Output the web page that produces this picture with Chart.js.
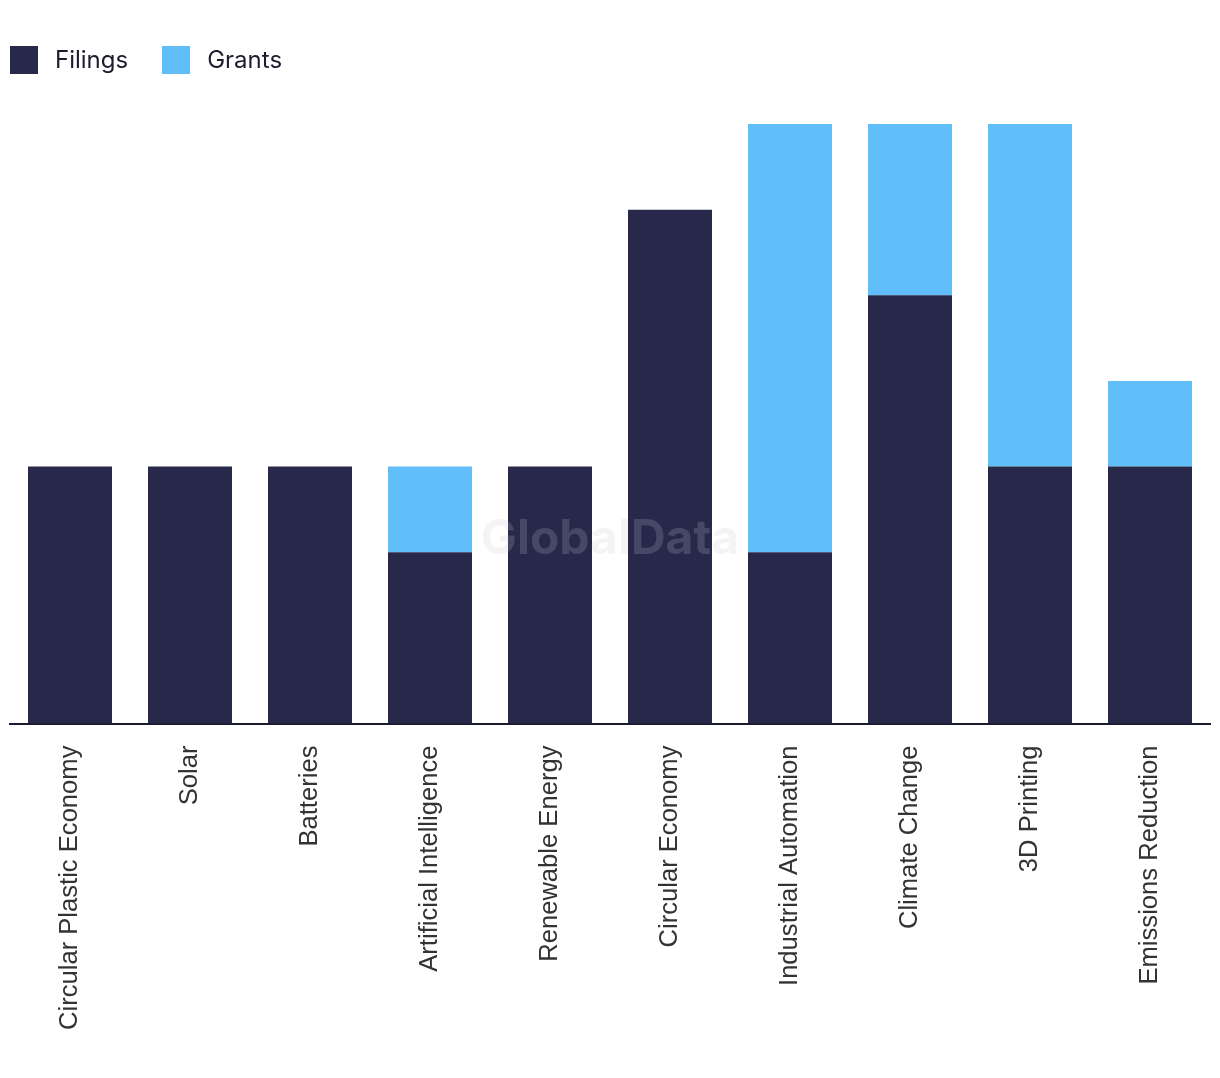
<!DOCTYPE html>
<html>
<head>
<meta charset="utf-8">
<script src="https://cdn.jsdelivr.net/npm/chart.js@4.4.1/dist/chart.umd.min.js"></script>
<style>
  body { margin: 0; background: #fff; }
  #wrap { position: relative; width: 1220px; height: 1078px; }
  #legend { position: absolute; left: 10px; top: 45px; display: flex; font-family: Inter, "Noto Sans", sans-serif; font-size: 24px; color: #1c1c2e; }
  .item { display: flex; align-items: center; margin-right: 34px; }
  .box { width: 28px; height: 28px; margin-right: 17px; }
</style>
</head>
<body>
<div id="wrap">
  <div id="legend"></div>
  <canvas id="chart" width="1220" height="1078"></canvas>
</div>
<script>
const categories = ['Circular Plastic Economy', 'Solar', 'Batteries', 'Artificial Intelligence', 'Renewable Energy',
    'Circular Economy', 'Industrial Automation', 'Climate Change', '3D Printing', 'Emissions Reduction'];
const filings = [3, 3, 3, 2, 3, 6, 2, 5, 3, 3];
const grants = [0, 0, 0, 1, 0, 0, 5, 2, 4, 1];
const seriesNames = ['Filings', 'Grants'];
const colors = ['#27284a', '#60bff8'];

// html legend
const legend = document.getElementById('legend');
seriesNames.forEach((name, i) => {
    const item = document.createElement('div');
    item.className = 'item';
    item.innerHTML = `<span class="box" style="background:${colors[i]}"></span><span>${name}</span>`;
    legend.appendChild(item);
});

const watermark = {
    id: 'watermark',
    afterDatasetsDraw(chart) {
        const { ctx, chartArea } = chart;
        ctx.save();
        ctx.font = 'bold 48px Inter, "Noto Sans", sans-serif';
        ctx.fillStyle = 'rgba(200,200,215,0.2)';
        ctx.textAlign = 'center';
        ctx.textBaseline = 'middle';
        ctx.fillText('GlobalData', (chartArea.left + chartArea.right) / 2, 540);
        ctx.restore();
    }
};

new Chart(document.getElementById('chart'), {
    type: 'bar',
    data: {
        labels: categories,
        datasets: [
            { label: seriesNames[0], data: filings, backgroundColor: colors[0] },
            { label: seriesNames[1], data: grants, backgroundColor: colors[1] }
        ]
    },
    options: {
        responsive: false,
        animation: false,
        barPercentage: 0.7,
        categoryPercentage: 1.0,
        layout: { padding: { top: 124, left: 10, right: 10, bottom: 34 } },
        scales: {
            x: {
                stacked: true,
                grid: { display: false },
                border: { display: true, color: '#1a1a2e', width: 2 },
                ticks: {
                    minRotation: 90,
                    maxRotation: 90,
                    padding: 14,
                    color: '#333',
                    font: { family: '"Liberation Sans", Arial, sans-serif', size: 25.6 }
                }
            },
            y: {
                stacked: true,
                display: false,
                min: 0,
                max: 7
            }
        },
        plugins: {
            legend: { display: false },
            tooltip: { enabled: false }
        }
    },
    plugins: [watermark]
});
</script>
</body>
</html>
